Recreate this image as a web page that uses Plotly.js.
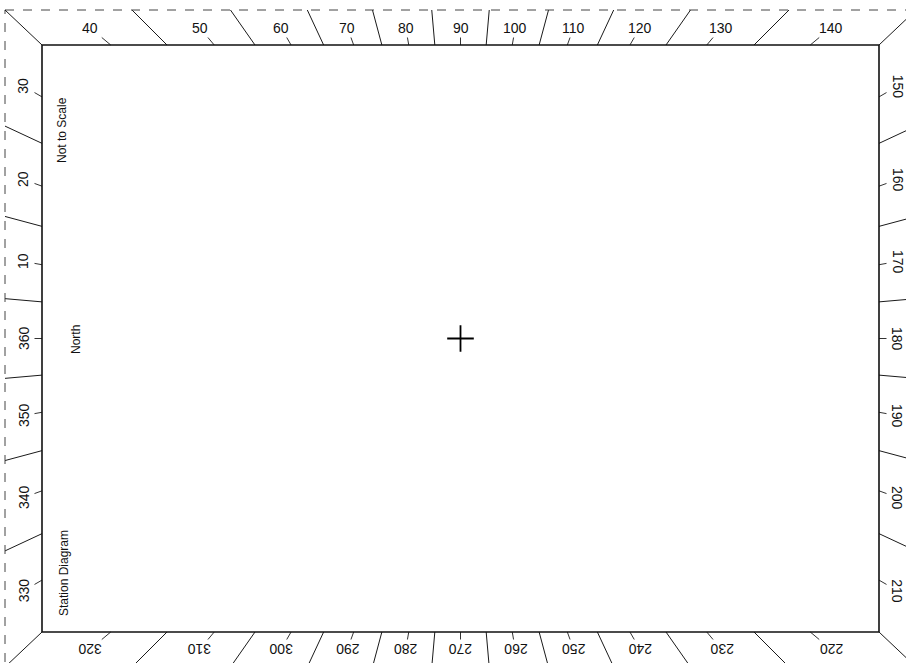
<!DOCTYPE html>
<html>
<head>
<meta charset="utf-8">
<script src="https://cdn.plot.ly/plotly-3.0.1.min.js"></script>
<style>html,body{margin:0;padding:0;background:#fff;}#chart{width:906px;height:663px;}</style>
</head>
<body>
<div id="chart"></div>
<script>
// ---- data ----
var labelAngles = [10,20,30,40,50,60,70,80,90,100,110,120,130,140,150,160,170,180,
                   190,200,210,220,230,240,250,260,270,280,290,300,310,320,330,340,350,360];
var labelTexts  = ["10","20","30","40","50","60","70","80","90","100","110","120","130","140","150","160","170","180",
                   "190","200","210","220","230","240","250","260","270","280","290","300","310","320","330","340","350","360"];
var spokeAngles = [5,15,25,45,55,65,75,85,95,105,115,125,135,155,165,175,185,195,205,
                   225,235,245,255,265,275,285,295,305,315,335,345,355];
var notes = ["Not to Scale","North","Station Diagram"];

// ---- geometry of the diagram (pixel space via axes) ----
var W = 906, H = 663;
var cx = 460.5, cy = 338.5;
var inner = {hw: 418.5, hh: 293.5};
var outer = {hw: 455.5, hh: 328.5};
var mid   = {hw: 437,   hh: 311};
var tick  = {hw: 426,   hh: 301};

function dir(a){ var r = a*Math.PI/180; return [-Math.cos(r), -Math.sin(r)]; }
function hit(a, box){
  var d = dir(a);
  var tx = Math.abs(d[0])>1e-9 ? box.hw/Math.abs(d[0]) : Infinity;
  var ty = Math.abs(d[1])>1e-9 ? box.hh/Math.abs(d[1]) : Infinity;
  var t = Math.min(tx, ty);
  return {x: cx + d[0]*t, y: cy + d[1]*t, side: tx<ty ? (d[0]<0?'L':'R') : (d[1]<0?'T':'B')};
}

var sx=[], sy=[];
spokeAngles.forEach(function(a){
  var p = hit(a, inner), q = hit(a, outer);
  sx.push(p.x, q.x, null); sy.push(p.y, q.y, null);
});
var kx=[], ky=[];
labelAngles.forEach(function(a){
  var p = hit(a, inner), q = hit(a, tick);
  kx.push(p.x, q.x, null); ky.push(p.y, q.y, null);
});

var rot = {T:0, B:180, L:-90, R:90};
var annotations = labelAngles.map(function(a,i){
  var p = hit(a, mid);
  return {x:p.x, y:p.y, xref:'x', yref:'y', text:labelTexts[i], showarrow:false,
          textangle:rot[p.side], font:{family:'Liberation Sans, Arial, sans-serif', size:14, color:'#111'}};
});
var noteX = [62, 76, 64];
var noteY = [130, 340, 573];
notes.forEach(function(t,i){
  annotations.push({x:noteX[i], y:noteY[i], xref:'x', yref:'y', text:t, showarrow:false,
    textangle:-90, font:{family:'Liberation Sans, Arial, sans-serif', size:12, color:'#111'}});
});

var lineStyle = {color:'#1a1a1a', width:1};
var shapes = [
  {type:'rect', xref:'x', yref:'y', x0:cx-inner.hw, x1:cx+inner.hw, y0:cy-inner.hh, y1:cy+inner.hh, line:{color:'#111', width:1.6}},
  {type:'rect', xref:'x', yref:'y', x0:cx-outer.hw, x1:cx+outer.hw, y0:cy-outer.hh, y1:cy+outer.hh, line:{color:'#444', width:1, dash:'dash'}}
];
[[-1,-1],[1,-1],[1,1],[-1,1]].forEach(function(s){
  shapes.push({type:'line', xref:'x', yref:'y',
    x0:cx+s[0]*inner.hw, y0:cy+s[1]*inner.hh, x1:cx+s[0]*outer.hw, y1:cy+s[1]*outer.hh, line:lineStyle});
});

var traces = [
  {x:sx, y:sy, mode:'lines', line:lineStyle, hoverinfo:'skip', showlegend:false},
  {x:kx, y:ky, mode:'lines', line:{color:'#333', width:1}, hoverinfo:'skip', showlegend:false},
  {x:[cx], y:[cy], mode:'markers', marker:{symbol:'cross-thin', size:19, line:{color:'#000', width:1.8}}, hoverinfo:'skip', showlegend:false}
];

var layout = {
  width:W, height:H, margin:{l:0,r:0,t:0,b:0},
  paper_bgcolor:'#fff', plot_bgcolor:'#fff',
  xaxis:{range:[0,W], visible:false, fixedrange:true},
  yaxis:{range:[H,0], visible:false, fixedrange:true},
  shapes:shapes, annotations:annotations, showlegend:false
};
Plotly.newPlot('chart', traces, layout, {staticPlot:true, displayModeBar:false});
</script>
</body>
</html>
